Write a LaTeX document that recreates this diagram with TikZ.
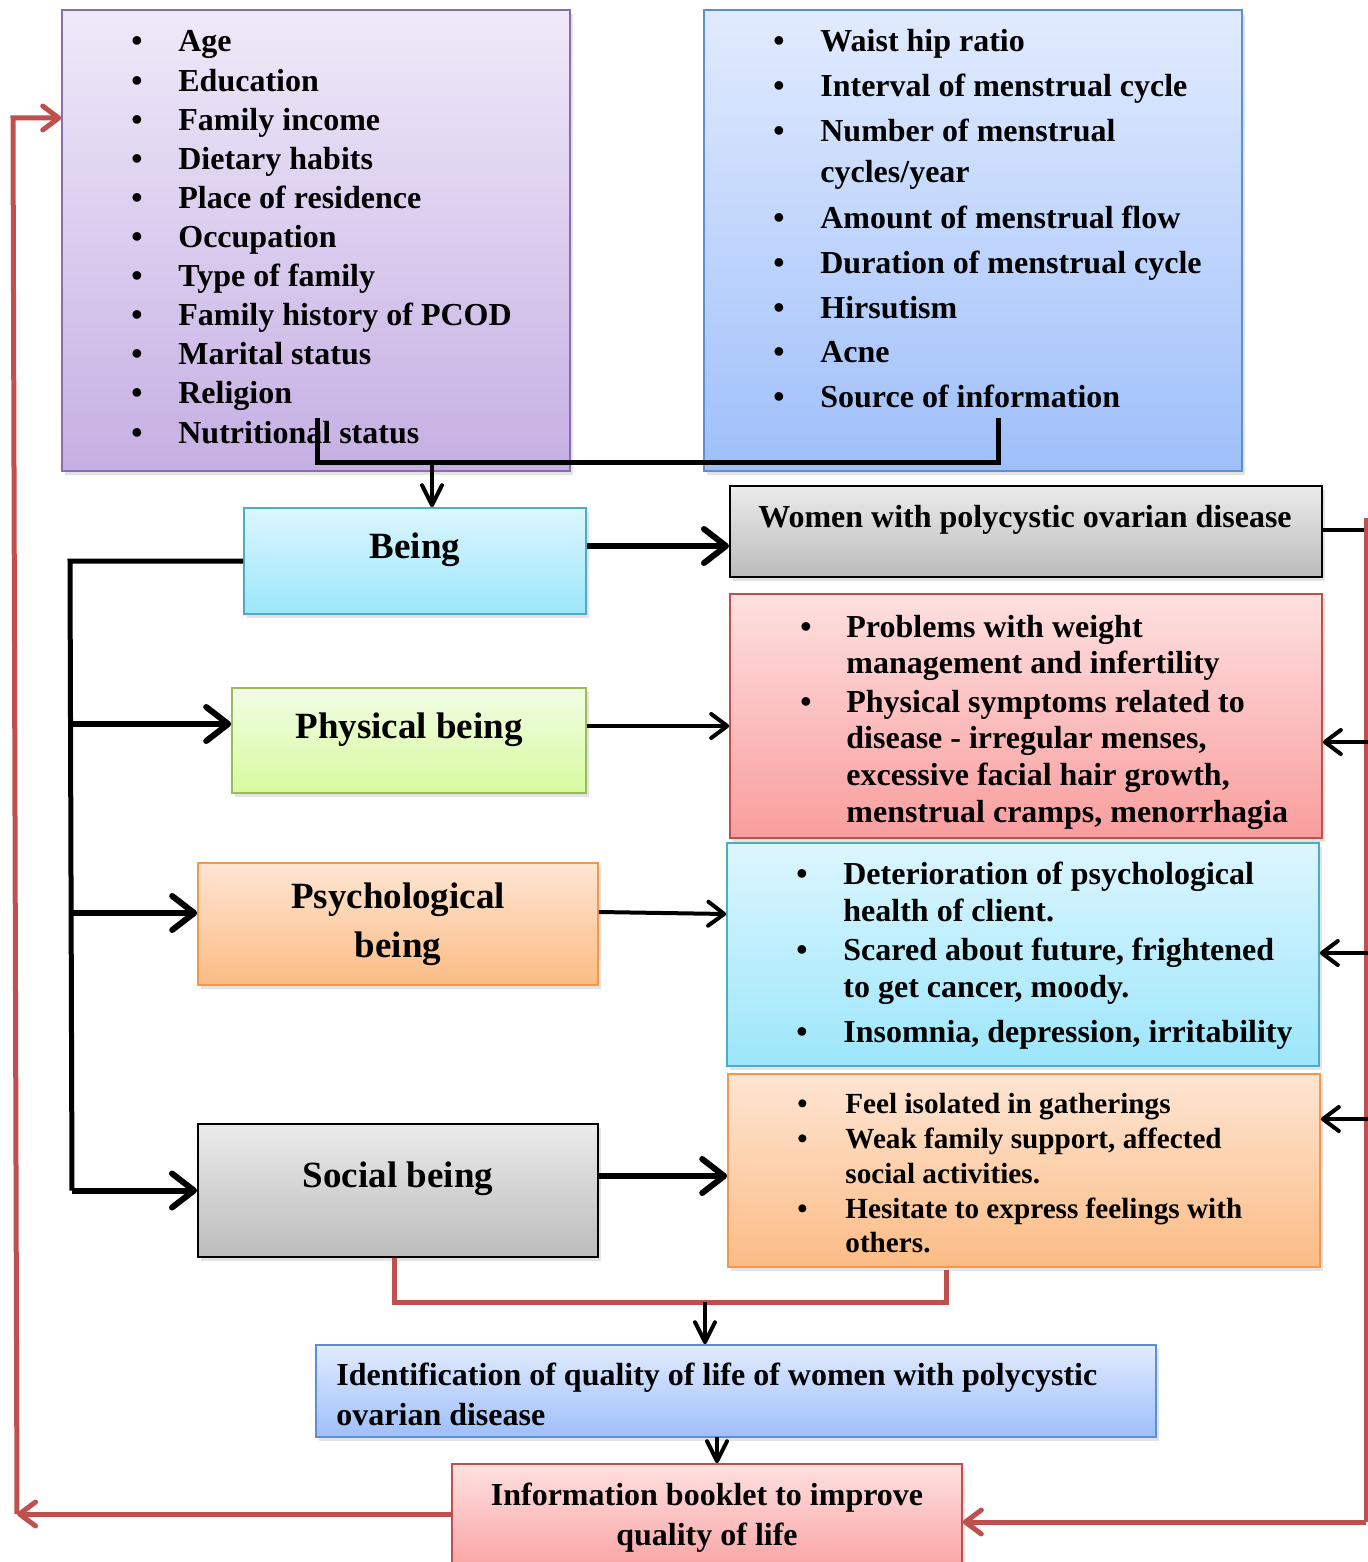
\documentclass[tikz,border=0pt]{standalone}
\usepackage{fontspec}
\setmainfont{Liberation Serif}
\usetikzlibrary{arrows.meta,fit,shadows}
\definecolor{purpleT}{HTML}{EFE9F8}\definecolor{purpleD}{HTML}{C5AFE3}\definecolor{purpleB}{HTML}{8A6DB0}
\definecolor{blueT}{HTML}{E1EBFE}\definecolor{blueD}{HTML}{9EBFFA}\definecolor{blueB}{HTML}{5F8FD3}
\definecolor{cyanT}{HTML}{DCF6FE}\definecolor{cyanD}{HTML}{9CE6FB}\definecolor{cyanB}{HTML}{4BACC6}
\definecolor{greenT}{HTML}{F2FDE5}\definecolor{greenD}{HTML}{D6FA9E}\definecolor{greenB}{HTML}{9BBB59}
\definecolor{orangeT}{HTML}{FEE5D3}\definecolor{orangeD}{HTML}{FBBC85}\definecolor{orangeB}{HTML}{F79646}
\definecolor{redT}{HTML}{FEE0E0}\definecolor{redD}{HTML}{F99D9D}\definecolor{redB}{HTML}{C0504D}
\definecolor{grayT}{HTML}{EBEBEB}\definecolor{grayD}{HTML}{BBBBBB}
\definecolor{redL}{HTML}{C0504D}
\newcommand\bt[1]{\makebox[#1][l]{\textbullet}}
\tikzset{
 bx/.style={inner sep=0pt, line width=0.8pt, drop shadow={shadow xshift=1.5pt,shadow yshift=-2pt,opacity=0.22}},
 purplebx/.style={bx, draw=purpleB, top color=purpleT, bottom color=purpleD},
 bluebx/.style={bx, draw=blueB, top color=blueT, bottom color=blueD},
 cyanbx/.style={bx, draw=cyanB, top color=cyanT, bottom color=cyanD},
 greenbx/.style={bx, draw=greenB, top color=greenT, bottom color=greenD},
 orangebx/.style={bx, draw=orangeB, top color=orangeT, bottom color=orangeD},
 redbx/.style={bx, draw=redB, top color=redT, bottom color=redD},
 graybx/.style={bx, draw=black, line width=1pt, top color=grayT, bottom color=grayD},
 lt/.style={inner sep=0pt, anchor=base west, font=\fontsize{16}{19}\selectfont\bfseries},
 st/.style={inner sep=0pt, anchor=base west, font=\fontsize{14.6}{17}\selectfont\bfseries},
 lab/.style={inner sep=0pt, anchor=base, font=\fontsize{18.5}{22}\selectfont\bfseries},
 mid/.style={inner sep=0pt, anchor=base, font=\fontsize{16}{19}\selectfont\bfseries},
 thk/.style={line width=3pt, -{Straight Barb[round,length=11pt,width=17pt]}},
 thn/.style={line width=2pt, -{Straight Barb[round,length=8pt,width=12pt]}},
 dwn/.style={line width=2pt, -{Straight Barb[round,length=10pt,width=10pt]}},
 blk/.style={line width=2.5pt},
 redln/.style={line width=2.5pt, draw=redL},
 redarr/.style={line width=2.5pt, draw=redL, -{Straight Barb[round,length=8pt,width=12pt]}},
}
\begin{document}
\begin{tikzpicture}[x=0.5pt,y=-0.5pt]
\fill[white] (0,0) rectangle (1368,1562);
\useasboundingbox (0,0) rectangle (1368,1562);

% boxes
\node[purplebx, fit={(62,10)(570,471)}] (lbox) {};
\node[bluebx, fit={(704,10)(1242,471)}] (rbox) {};
\node[cyanbx, fit={(244,508)(586,614)}] (being) {};
\node[graybx, fit={(730,486)(1322,577)}] (women) {};
\node[greenbx, fit={(232,688)(586,793)}] (phys) {};
\node[redbx, fit={(730,594)(1322,838)}] (physr) {};
\node[orangebx, fit={(198,863)(598,985)}] (psych) {};
\node[cyanbx, fit={(727,843)(1319,1066)}] (psychr) {};
\node[graybx, fit={(198,1124)(598,1257)}] (social) {};
\node[orangebx, fit={(728,1074)(1320,1267)}] (socialr) {};
\node[bluebx, fit={(316,1345)(1156,1437)}] (ident) {};
\node[redbx, fit={(452,1464)(962,1580)}] (booklet) {};

% left list
\foreach \t [count=\i from 0] in {Age,Education,Family income,Dietary habits,Place of residence,Occupation,Type of family,Family history of PCOD,Marital status,Religion,Nutritional status}
  \node[lt] (la\i) at (131,{52+39.1*\i}) {\bt{23.5pt}\t};

% right list
\node[lt] (ra1) at (773,52) {\bt{23.5pt}Waist hip ratio};
\node[lt] (ra2) at (773,97) {\bt{23.5pt}Interval of menstrual cycle};
\node[lt] (ra3) at (773,142) {\bt{23.5pt}Number of menstrual};
\node[lt] (ra3b) at (820,183) {cycles/year};
\node[lt] (ra4) at (773,228) {\bt{23.5pt}Amount of menstrual flow};
\node[lt] (ra5) at (773,273) {\bt{23.5pt}Duration of menstrual cycle};
\node[lt] (ra6) at (773,318) {\bt{23.5pt}Hirsutism};
\node[lt] (ra7) at (773,362) {\bt{23.5pt}Acne};
\node[lt] (ra8) at (773,407) {\bt{23.5pt}Source of information};

% labels
\node[lab] (beingt) at (415,558) {Being};
\node[mid] (woment) at (1025,527) {Women with polycystic ovarian disease};
\node[lab] (physt) at (409,738) {Physical being};
\node[lab] (psycht1) at (398,908) {Psychological};
\node[lab] (psycht2) at (398,957) {being};
\node[lab] (socialt) at (398,1187) {Social being};

% physical list
\node[lt] (pr1) at (800,637) {\bt{23pt}Problems with weight};
\node[lt] (pr1b) at (846,673) {management and infertility};
\node[lt] (pr2) at (800,712) {\bt{23pt}Physical symptoms related to};
\node[lt] (pr2b) at (846,748) {disease - irregular menses,};
\node[lt] (pr2c) at (846,785) {excessive facial hair growth,};
\node[lt] (pr2d) at (846,822) {menstrual cramps, menorrhagia};

% psychological list
\node[lt] (ps1) at (796,884) {\bt{23.5pt}Deterioration of psychological};
\node[lt] (ps1b) at (843,921) {health of client.};
\node[lt] (ps2) at (796,960) {\bt{23.5pt}Scared about future, frightened};
\node[lt] (ps2b) at (843,997) {to get cancer, moody.};
\node[lt] (ps3) at (796,1042) {\bt{23.5pt}Insomnia, depression, irritability};

% social list
\node[st] (so1) at (797,1113) {\bt{24pt}Feel isolated in gatherings};
\node[st] (so2) at (797,1148) {\bt{24pt}Weak family support, affected};
\node[st] (so2b) at (845,1183) {social activities.};
\node[st] (so3) at (797,1218) {\bt{24pt}Hesitate to express feelings with};
\node[st] (so3b) at (845,1252) {others.};

% bottom texts
\node[lt] (id1) at (336,1385) {Identification of quality of life of women with polycystic};
\node[lt] (id2) at (336,1425) {ovarian disease};
\node[mid] (bk1) at (707,1505) {Information booklet to improve};
\node[mid] (bk2) at (707,1545) {quality of life};

% top connector
\coordinate (tc1) at (317,418);
\coordinate (tc2) at (998,418);
\coordinate (tj) at (432,462);
\draw[blk] (tc1) |- (tc2 |- tj) -- (tc2);
\draw[dwn] (tj) -- (tj |- being.north);

% being -> women
\path ([yshift=7.5pt]being.east) coordinate (be);
\draw[thk] (be) -- (be -| women.west);

% left spine
\coordinate (sp0) at (70,561);
\coordinate (spb) at (72,1190.5);
\draw[blk] (being.west) -- (sp0) -- (spb);
\draw[thk] (spb) -- (social.west);
\coordinate (sp1) at (71,724);
\path ([yshift=8.25pt]phys.west) coordinate (pw);
\draw[thk] (sp1) -- (pw);
\coordinate (sp2) at (71,913);
\path ([yshift=5.5pt]psych.west) coordinate (psw);
\draw[thk] (sp2) -- (psw);

% being boxes -> detail boxes
\path ([yshift=7.25pt]phys.east) coordinate (pe);
\draw[thn] (pe) -- (pe -| physr.west);
\path ([yshift=6pt]psych.east) coordinate (pse);
\draw[thn] (pse) -- ([yshift=20.25pt]psychr.west);
\path ([yshift=7.25pt]social.east) coordinate (se);
\draw[thk] (se) -- (se -| socialr.west);

% right side
\coordinate (rtop) at (1366,530);
\coordinate (rbot) at (1366,1522);
\coordinate (rstart) at (1366,518);
\draw[line width=2pt] (women.east |- rtop) -- (rtop);
\draw[line width=1.6pt, draw=redL] (rstart) -- (rbot);
\coordinate (rpa) at (1368,742);
\coordinate (rpb) at (1368,953);
\coordinate (rpc) at (1368,1119);
\draw[thn] (rpa) -- (rpa -| physr.east);
\draw[thn] (rpb) -- (rpb -| psychr.east);
\draw[thn] (rpc) -- (rpc -| socialr.east);
\draw[redarr] (rbot) -- (rbot -| booklet.east);

% red connector below social
\path ([xshift=-2pt]social.south) coordinate (sob);
\coordinate (rj) at (705,1302);
\coordinate (rr) at (946,1270);
\draw[redln] (sob) |- (rr |- rj) -- (rr);
\draw[dwn] (rj) -- (rj |- ident.north);

% ident -> booklet
\coordinate (ib) at (717,1437);
\draw[dwn] (ib) -- (ib |- booklet.north);

% feedback to top-left box
\path ([yshift=4pt]booklet.west) coordinate (bw);
\coordinate (lc) at (17,1514);
\coordinate (lft) at (13,118);
\draw[redarr] (bw) -- (lc);
\draw[redarr] (lc) -- (lft) -- (lft -| lbox.west);
\end{tikzpicture}
\end{document}
